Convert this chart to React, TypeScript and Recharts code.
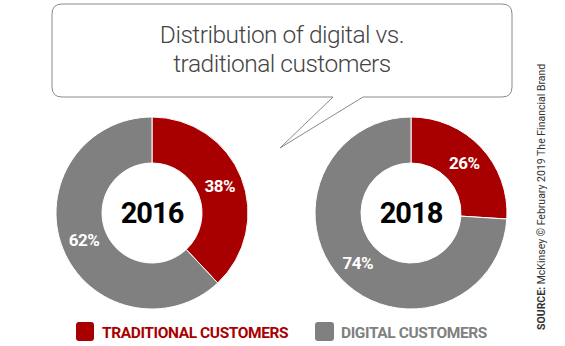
import React from "react";
import { PieChart, Pie, Cell, Customized } from "recharts";

const years = ["2016", "2018"];
const seriesNames = ["TRADITIONAL CUSTOMERS", "DIGITAL CUSTOMERS"];
const traditional = [38, 26];
const digital = [62, 74];
const colors = ["#a80000", "#808080"];
const titleLines = ["Distribution of digital vs.", "traditional customers"];
const sourceBold = "SOURCE:";
const sourceRest = " McKinsey © February 2019 The Financial Brand";

const W = 565;
const H = 346;
const FONT = "Roboto, 'Open Sans', sans-serif";

const dataFor = (i: number) => [
  { name: seriesNames[0], value: traditional[i] },
  { name: seriesNames[1], value: digital[i] },
];

const renderLabel = (props: any) => {
  const { cx, cy, midAngle, innerRadius, outerRadius, value } = props;
  const RAD = Math.PI / 180;
  const r = (innerRadius + outerRadius) / 2;
  const x = cx + r * Math.cos(-midAngle * RAD);
  const y = cy + r * Math.sin(-midAngle * RAD);
  return (
    <text
      x={x}
      y={y}
      fill="#ffffff"
      textAnchor="middle"
      dominantBaseline="central"
      fontFamily={FONT}
      fontWeight={700}
      fontSize={17}
      letterSpacing={-0.5}
    >
      {value}%
    </text>
  );
};

const Callout = () => (
  <g>
    <path
      d="M62,4 H502 Q512,4 512,14 V87 Q512,97 502,97 H363 L280,148 L333,97 H62 Q52,97 52,87 V14 Q52,4 62,4 Z"
      fill="#ffffff"
      stroke="#8a8a8a"
      strokeWidth={1}
    />
    {titleLines.map((t, i) => (
      <text
        key={i}
        x={282}
        y={43 + i * 29}
        textAnchor="middle"
        fontFamily={FONT}
        fontWeight={300}
        fontSize={24.5}
        fill="#444444"
        letterSpacing={-0.5}
      >
        {t}
      </text>
    ))}
  </g>
);

const CenterLabels = () => (
  <g>
    {years.map((y, i) => (
      <text
        key={y}
        x={i === 0 ? 152 : 411}
        y={213}
        textAnchor="middle"
        dominantBaseline="central"
        fontFamily={FONT}
        fontWeight={700}
        fontSize={29}
        fill="#000000"
        letterSpacing={-1}
      >
        {y}
      </text>
    ))}
  </g>
);

const LegendAndSource = () => (
  <g>
    <rect x={76} y={322} width={18} height={19} rx={3} fill={colors[0]} />
    <text x={102} y={338} fontFamily={FONT} fontWeight={700} fontSize={15.5} fill={colors[0]} letterSpacing={-0.4}>
      {seriesNames[0]}
    </text>
    <rect x={315} y={322} width={19} height={19} rx={3} fill={colors[1]} />
    <text x={341} y={338} fontFamily={FONT} fontWeight={700} fontSize={15.5} fill={colors[1]} letterSpacing={-0.4}>
      {seriesNames[1]}
    </text>
    <text
      x={0}
      y={0}
      transform="translate(545,330) rotate(-90)"
      fontFamily={FONT}
      fontSize={10.5}
      fill="#333333"
    >
      <tspan fontWeight={700}>{sourceBold}</tspan>
      <tspan>{sourceRest}</tspan>
    </text>
  </g>
);

export default function App() {
  return (
    <div style={{ position: "absolute", left: 0, top: 0, width: W, height: H, background: "#fff" }}>
      <PieChart width={W} height={H} margin={{ top: 0, right: 0, bottom: 0, left: 0 }}>
        <Customized component={Callout} />
        {years.map((y, i) => (
          <Pie
            key={y}
            data={dataFor(i)}
            dataKey="value"
            nameKey="name"
            cx={i === 0 ? 152 : 411}
            cy={213}
            innerRadius={50}
            outerRadius={96}
            startAngle={90}
            endAngle={-270}
            stroke="#ffffff"
            strokeWidth={1}
            label={renderLabel}
            labelLine={false}
            isAnimationActive={false}
          >
            {dataFor(i).map((d, j) => (
              <Cell key={d.name} fill={colors[j]} />
            ))}
          </Pie>
        ))}
        <Customized component={CenterLabels} />
        <Customized component={LegendAndSource} />
      </PieChart>
    </div>
  );
}
